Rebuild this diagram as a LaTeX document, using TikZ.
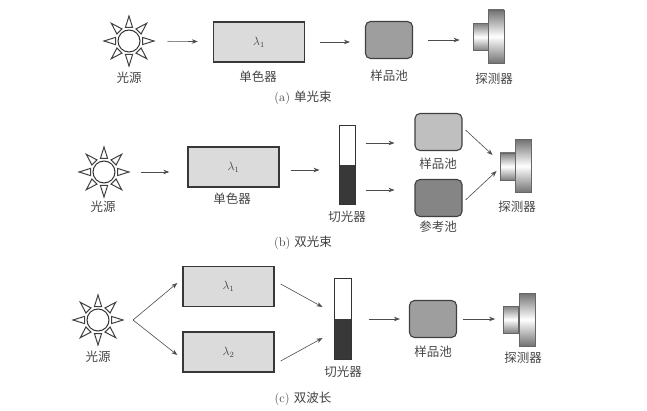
\documentclass[tikz,border=0pt]{standalone}
\usepackage{fontspec}
\newfontfamily\cjk{Noto Sans CJK SC}
\usetikzlibrary{arrows.meta,calc}
\begin{document}
\begin{tikzpicture}[x=1pt,y=-1pt,
 lab/.style={font=\cjk\fontsize{12.5}{13}\selectfont, text=black!72, inner sep=0pt},
 captxt/.style={font=\fontsize{12.5}{13}\selectfont, text=black!75, inner sep=0pt},
 arr/.style={draw=black!70, line width=0.6pt, -{Stealth[length=6pt,width=4.5pt]}},
 mono/.style={draw=black!78, line width=1.4pt, fill=black!14, minimum width=91pt, minimum height=40pt, inner sep=0pt, font=\fontsize{12}{12}\selectfont, text=black!75},
 cell/.style={draw=black!75, line width=1.1pt, rounded corners=5pt, minimum width=47pt, minimum height=37pt, inner sep=0pt},
 chop/.style={draw=black!80, line width=1pt, fill=white, minimum width=16pt, minimum height=79pt, inner sep=0pt,
   path picture={\fill[black!78] (path picture bounding box.west) rectangle (path picture bounding box.south east);}},
 detsmall/.style={draw=black!60, line width=0.8pt, top color=black!50, bottom color=black!50, middle color=white, minimum width=15pt, minimum height=27pt, inner sep=0pt},
 detbig/.style={draw=black!60, line width=0.8pt, top color=black!55, bottom color=black!55, middle color=white, minimum width=16pt, minimum height=53pt, inner sep=0pt},
 sun/.style={circle, draw=black!80, line width=1pt, fill=white, minimum size=22pt, inner sep=0pt},
 ray/.style={draw=black!75, line width=1pt, fill=white, line join=miter}
]
\useasboundingbox[fill=white] (0,0) rectangle (647,411);

\newcommand\sunrays[1]{%
  \foreach \a in {0,45,...,315}{%
    \draw[ray] ($(#1)+(\a:13.5)+(\a+90:3.6)$) -- ($(#1)+(\a:25)$) -- ($(#1)+(\a:13.5)+(\a-90:3.6)$) -- cycle;
  }}

% ---------------- (a) ----------------
\node[sun] (sunA) at (129,41) {};
\sunrays{sunA}
\node[mono] (monoA) at (259,42) {$\lambda_1$};
\node[cell, fill=black!38] (cellA) at (389,40) {};
\node[detsmall] (detsA) at (480.5,37) {};
\node[detbig] (detbA) at (496,36.5) {};
\node[lab] (lsunA) at (129,78) {光源};
\node[lab] (lmonoA) at (258,77) {单色器};
\node[lab] (lcellA) at (389,76) {样品池};
\node[lab] (ldetA) at (494,79) {探测器};
\node[captxt] (capA) at (303,98) {(a)\ {\cjk 单光束}};
\draw[arr, shorten <=27pt, shorten >=15pt] (sunA) -- (monoA);
\draw[arr, shorten <=15pt, shorten >=15pt] (monoA.east) -- (monoA.east -| cellA.west);
\draw[arr, shorten <=15pt, shorten >=13pt] (cellA.east) -- (cellA.east -| detsA.west);

% ---------------- (b) ----------------
\node[sun] (sunB) at (104,172) {};
\sunrays{sunB}
\node[mono] (monoB) at (233.5,167) {$\lambda_1$};
\node[chop] (chopB) at (347,165.5) {};
\node[cell, fill=black!25] (sampB) at (438.5,132) {};
\node[cell, fill=black!48] (refB) at (438.5,198) {};
\node[detsmall] (detsB) at (507.5,166.5) {};
\node[detbig] (detbB) at (523,166) {};
\node[lab] (lsunB) at (103,207) {光源};
\node[lab] (lmonoB) at (232,199) {单色器};
\node[lab] (lchopB) at (347,217) {切光器};
\node[lab] (lsampB) at (438,164) {样品池};
\node[lab] (lrefB) at (438,227) {参考池};
\node[lab] (ldetB) at (517,207) {探测器};
\node[captxt] (capB) at (303,243) {(b)\ {\cjk 双光束}};
\draw[arr, shorten <=25pt, shorten >=18pt] (sunB.east) -- (sunB.east -| monoB.west);
\draw[arr, shorten <=11pt, shorten >=19pt] ([yshift=-3pt]monoB.east) -- ([yshift=-3pt]monoB.east -| chopB.west);
\draw[arr] ([xshift=10pt,yshift=22.5pt]chopB.east) -- ([xshift=-20pt,yshift=-11pt]sampB.west);
\draw[arr] ([xshift=10pt,yshift=-24.5pt]chopB.east) -- ([xshift=-20pt,yshift=8pt]refB.west);
\draw[arr] ([xshift=3pt,yshift=2pt]sampB.east) -- ([xshift=-7pt,yshift=11.5pt]detsB.west);
\draw[arr] ([xshift=3pt,yshift=-2pt]refB.east) -- ([xshift=-3pt,yshift=-4.5pt]detsB.west);

% ---------------- (c) ----------------
\node[sun] (sunC) at (98,320) {};
\sunrays{sunC}
\coordinate (splitC) at (133,320);
\node[mono] (mono1C) at (228.5,286.5) {$\lambda_1$};
\node[mono] (mono2C) at (228.5,352) {$\lambda_2$};
\node[chop, minimum width=17pt, minimum height=80pt] (chopC) at (342.5,319) {};
\node[cell, fill=black!38] (sampC) at (433,319) {};
\node[detsmall] (detsC) at (511,319.5) {};
\node[detbig] (detbC) at (527,319.5) {};
\node[lab] (lsunC) at (98,357) {光源};
\node[lab] (lchopC) at (343,372) {切光器};
\node[lab] (lsampC) at (433,352) {样品池};
\node[lab] (ldetC) at (523,358) {探测器};
\node[captxt] (capC) at (303,399) {(c)\ {\cjk 双波长}};
\draw[arr] (splitC) -- ([xshift=-5pt,yshift=3.5pt]mono1C.west);
\draw[arr] (splitC) -- ([xshift=-5pt,yshift=-3pt]mono2C.west);
\draw[arr] ([xshift=6pt,yshift=2.5pt]mono1C.east) -- ([xshift=-11pt,yshift=12pt]chopC.west);
\draw[arr] ([xshift=6pt,yshift=-9pt]mono2C.east) -- ([xshift=-11pt,yshift=-19pt]chopC.west);
\draw[arr, shorten <=17pt, shorten >=9pt] (chopC.east) -- (chopC.east -| sampC.west);
\draw[arr, shorten <=6pt, shorten >=8pt] (sampC.east) -- (sampC.east -| detsC.west);
\end{tikzpicture}
\end{document}
